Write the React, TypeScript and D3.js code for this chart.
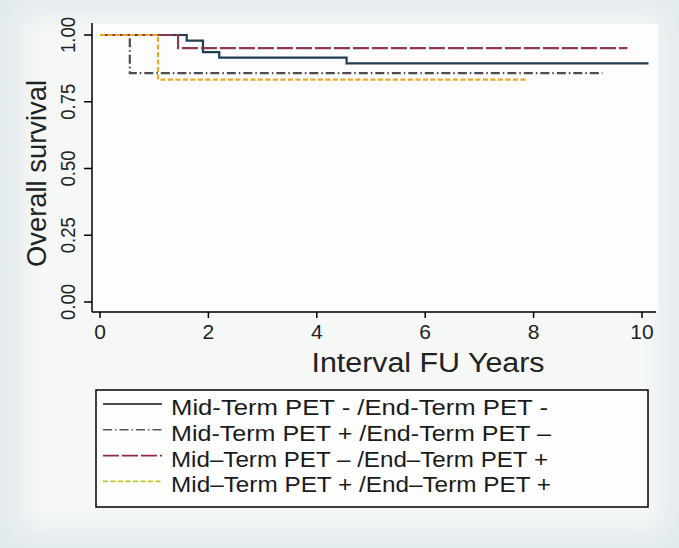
import React, { useEffect, useRef } from "react";
import * as d3 from "d3";

// Kaplan-Meier step data (years, survival)
const s1Times = [0, 1.6, 1.9, 2.2, 4.55, 10.12];
const s1Surv = [1, 0.979, 0.936, 0.915, 0.894, 0.894];
const s2Times = [0, 0.55, 9.27];
const s2Surv = [1, 0.857, 0.857];
const s3Times = [0, 1.44, 9.73];
const s3Surv = [1, 0.951, 0.951];
const s4Times = [0, 1.07, 7.9];
const s4Surv = [1, 0.833, 0.833];

const seriesLabels = [
  "Mid-Term PET - /End-Term PET -",
  "Mid-Term PET + /End-Term PET \u2013",
  "Mid\u2013Term PET \u2013 /End\u2013Term PET +",
  "Mid\u2013Term PET + /End\u2013Term PET +",
];
const xTicks = [0, 2, 4, 6, 8, 10];
const yTicks = [0, 0.25, 0.5, 0.75, 1];

const App = () => {
  const svgRef = useRef<SVGSVGElement>(null);

  useEffect(() => {
    document.body.style.margin = "0";
    const svg = d3.select(svgRef.current);
    svg.selectAll("*").remove();

    const W = 679;
    const H = 548;
    const font = "'Liberation Sans', Arial, sans-serif";

    // background with soft lighter centre
    const defs = svg.append("defs");
    defs
      .append("filter")
      .attr("id", "soft")
      .attr("x", "-10%")
      .attr("y", "-10%")
      .attr("width", "120%")
      .attr("height", "120%")
      .append("feGaussianBlur")
      .attr("stdDeviation", 12);
    svg.append("rect").attr("width", W).attr("height", H).attr("fill", "#e3eaed");
    svg
      .append("rect")
      .attr("x", 22)
      .attr("y", 14)
      .attr("width", 640)
      .attr("height", 515)
      .attr("fill", "#f6f8f8")
      .attr("filter", "url(#soft)");
    svg
      .append("rect")
      .attr("x", 93)
      .attr("y", 24)
      .attr("width", 565)
      .attr("height", 287)
      .attr("fill", "#fdfdfd");

    const x = d3.scaleLinear().domain([0, 10]).range([100, 642]);
    const y = d3.scaleLinear().domain([0, 1]).range([302, 35]);

    // axes
    const axisX = 92;
    const axisY = 312;
    svg
      .append("line")
      .attr("x1", axisX)
      .attr("x2", axisX)
      .attr("y1", 23)
      .attr("y2", axisY)
      .attr("stroke", "#000")
      .attr("stroke-width", 1.5);
    svg
      .append("line")
      .attr("x1", axisX)
      .attr("x2", 656)
      .attr("y1", axisY)
      .attr("y2", axisY)
      .attr("stroke", "#000")
      .attr("stroke-width", 1.5);

    xTicks.forEach((t) => {
      svg
        .append("line")
        .attr("x1", x(t))
        .attr("x2", x(t))
        .attr("y1", axisY)
        .attr("y2", axisY + 6)
        .attr("stroke", "#000")
        .attr("stroke-width", 1.5);
      svg
        .append("text")
        .attr("x", x(t))
        .attr("y", 339)
        .attr("text-anchor", "middle")
        .style("font-family", font)
        .style("font-size", "21px")
        .style("fill", "#222")
        .text(String(t));
    });

    yTicks.forEach((t) => {
      svg
        .append("line")
        .attr("x1", axisX - 8)
        .attr("x2", axisX)
        .attr("y1", y(t))
        .attr("y2", y(t))
        .attr("stroke", "#000")
        .attr("stroke-width", 1.5);
      svg
        .append("text")
        .attr("transform", `translate(75,${y(t)}) rotate(-90)`)
        .attr("text-anchor", "middle")
        .attr("textLength", 36)
        .attr("lengthAdjust", "spacingAndGlyphs")
        .style("font-family", font)
        .style("font-size", "21px")
        .style("fill", "#222")
        .text(d3.format(".2f")(t));
    });

    svg
      .append("text")
      .attr("x", 428)
      .attr("y", 372)
      .attr("text-anchor", "middle")
      .attr("textLength", 233)
      .attr("lengthAdjust", "spacingAndGlyphs")
      .style("font-family", font)
      .style("font-size", "27px")
      .style("fill", "#222")
      .text("Interval FU Years");

    svg
      .append("text")
      .attr("transform", `translate(46,${(y(0) + y(1)) / 2 + 5}) rotate(-90)`)
      .attr("text-anchor", "middle")
      .attr("textLength", 187)
      .attr("lengthAdjust", "spacingAndGlyphs")
      .style("font-family", font)
      .style("font-size", "27px")
      .style("fill", "#222")
      .text("Overall survival");

    // survival curves
    const series = [
      { t: s1Times, s: s1Surv, color: "#223d50", dash: null, legend: "#111" },
      { t: s2Times, s: s2Surv, color: "#4d4d4d", dash: "9,3,1.5,3", legend: "#555" },
      { t: s3Times, s: s3Surv, color: "#8d3a50", dash: "16,3", legend: "#8d2a40" },
      { t: s4Times, s: s4Surv, color: "#eda52a", dash: "5,2.5", legend: "#bcc820" },
    ];

    const line = d3
      .line<[number, number]>()
      .x((d) => x(d[0]))
      .y((d) => y(d[1]))
      .curve(d3.curveStepAfter);

    series.forEach((sr) => {
      const pts = sr.t.map((t, i) => [t, sr.s[i]] as [number, number]);
      const p = svg
        .append("path")
        .attr("d", line(pts))
        .attr("fill", "none")
        .attr("stroke", sr.color)
        .attr("stroke-width", 2.2);
      if (sr.dash) p.attr("stroke-dasharray", sr.dash);
    });

    // legend
    svg
      .append("rect")
      .attr("x", 96)
      .attr("y", 390)
      .attr("width", 552)
      .attr("height", 117)
      .attr("fill", "#fefefe")
      .attr("stroke", "#000")
      .attr("stroke-width", 1.5);

    seriesLabels.forEach((lab, i) => {
      const ly = 404 + i * 25.8;
      const sr = series[i];
      const l = svg
        .append("line")
        .attr("x1", 103)
        .attr("x2", 162)
        .attr("y1", ly)
        .attr("y2", ly)
        .attr("stroke", sr.legend)
        .attr("stroke-width", 1.6);
      if (sr.dash) l.attr("stroke-dasharray", sr.dash);
      svg
        .append("text")
        .attr("x", 171)
        .attr("y", ly + 11)
        .attr("textLength", i % 2 === 0 ? 377 : 380)
        .attr("lengthAdjust", "spacingAndGlyphs")
        .style("font-family", font)
        .style("font-size", "22px")
        .style("fill", "#1a1a1a")
        .text(lab);
    });
  }, []);

  return <svg ref={svgRef} width={679} height={548} style={{ display: "block" }} />;
};

export default App;
